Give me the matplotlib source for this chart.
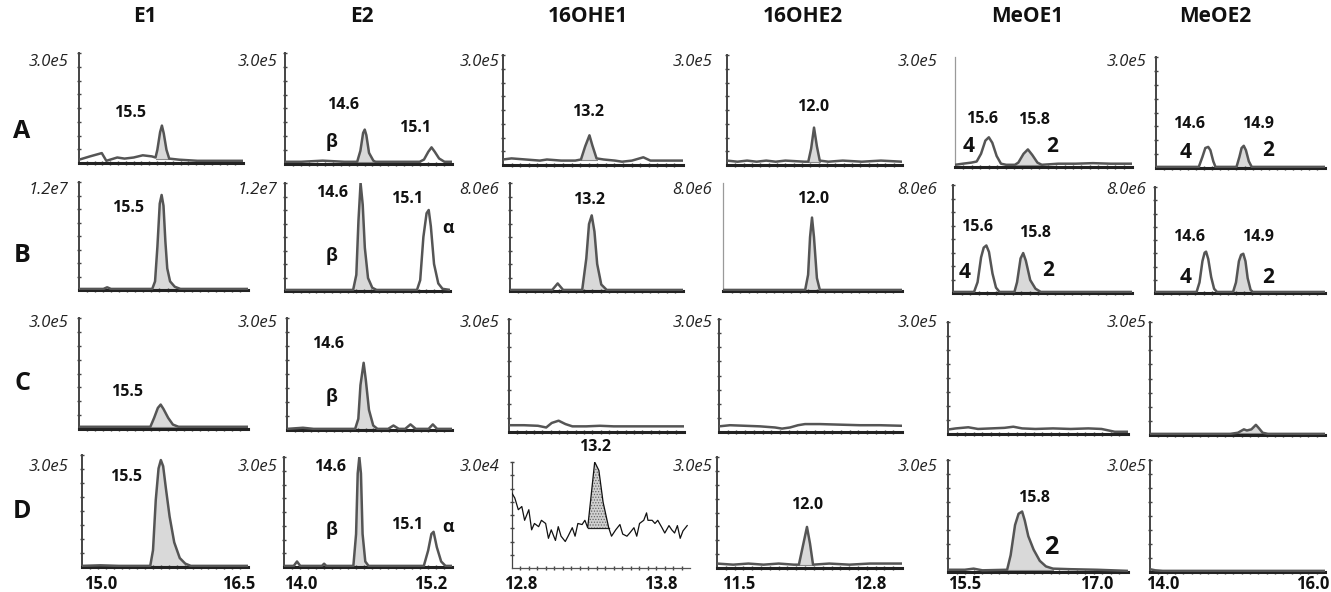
import numpy as np
import matplotlib.pyplot as plt
from matplotlib.transforms import blended_transform_factory

plt.rcParams['font.family'] = ['Open Sans', 'DejaVu Sans']
plt.rcParams['hatch.linewidth'] = 0.6

W, H = 1331, 592

compounds = ["E1", "E2", "16OHE1", "16OHE2", "MeOE1", "MeOE2"]
samples = ["A", "B", "C", "D"]

# full scale of every panel, per sample row
scale_A = ["3.0e5", "3.0e5", "3.0e5", "3.0e5", "3.0e5", "3.0e5"]
scale_B = ["1.2e7", "1.2e7", "8.0e6", "8.0e6", "8.0e6", "8.0e6"]
scale_C = ["3.0e5", "3.0e5", "3.0e5", "3.0e5", "3.0e5", "3.0e5"]
scale_D = ["3.0e5", "3.0e5", "3.0e4", "3.0e5", "3.0e5", "3.0e5"]

# retention time window and labelled ticks per compound
rt_window = [(14.8, 16.6), (13.85, 15.4), (12.74, 14.01), (11.29, 13.12), (15.31, 17.35), (13.83, 16.16)]
rt_ticks = [(15.0, 16.5), (14.0, 15.2), (12.8, 13.8), (11.5, 12.8), (15.5, 17.0), (14.0, 16.0)]

# chromatograms: retention time (min) and signal (fraction of full scale)
E1_A_rt = [14.80, 14.92, 15.05, 15.10, 15.14, 15.22, 15.30, 15.40, 15.50, 15.60, 15.64, 15.66, 15.69, 15.71, 15.73, 15.76, 15.79, 15.90, 16.10, 16.30, 16.60]
E1_A_sig = [0.03, 0.06, 0.09, 0.02, 0.03, 0.05, 0.04, 0.05, 0.07, 0.06, 0.05, 0.12, 0.28, 0.34, 0.27, 0.12, 0.04, 0.03, 0.02, 0.02, 0.02]
E1_B_rt = [14.80, 15.00, 15.06, 15.10, 15.14, 15.40, 15.58, 15.61, 15.635, 15.66, 15.68, 15.70, 15.72, 15.74, 15.77, 15.82, 15.88, 16.20, 16.60]
E1_B_sig = [0.01, 0.01, 0.01, 0.025, 0.01, 0.01, 0.01, 0.08, 0.40, 0.80, 0.88, 0.78, 0.45, 0.20, 0.08, 0.03, 0.01, 0.01, 0.01]
E1_C_rt = [14.80, 15.20, 15.56, 15.60, 15.64, 15.67, 15.70, 15.75, 15.80, 15.86, 16.20, 16.60]
E1_C_sig = [0.02, 0.02, 0.02, 0.10, 0.19, 0.22, 0.18, 0.10, 0.04, 0.02, 0.02, 0.02]
E1_D_rt = [14.80, 15.00, 15.20, 15.54, 15.57, 15.60, 15.63, 15.655, 15.68, 15.71, 15.75, 15.80, 15.86, 15.92, 15.98, 16.30, 16.60]
E1_D_sig = [0.01, 0.015, 0.01, 0.01, 0.15, 0.60, 0.88, 0.955, 0.90, 0.70, 0.45, 0.22, 0.08, 0.03, 0.01, 0.01, 0.01]

E2_A_rt = [13.85, 14.00, 14.20, 14.40, 14.52, 14.55, 14.575, 14.59, 14.605, 14.63, 14.67, 14.69, 14.90, 15.10, 15.14, 15.18, 15.21, 15.24, 15.28, 15.33, 15.40]
E2_A_sig = [0.02, 0.02, 0.03, 0.02, 0.02, 0.12, 0.28, 0.31, 0.26, 0.10, 0.03, 0.02, 0.02, 0.02, 0.04, 0.11, 0.15, 0.11, 0.05, 0.02, 0.02]
E2_B_rt = [13.85, 14.20, 14.49, 14.52, 14.54, 14.56, 14.58, 14.60, 14.63, 14.67, 14.71, 15.09, 15.12, 15.15, 15.18, 15.20, 15.22, 15.25, 15.29, 15.33, 15.40]
E2_B_sig = [0.01, 0.01, 0.01, 0.15, 0.65, 1.00, 0.80, 0.40, 0.12, 0.03, 0.01, 0.01, 0.10, 0.50, 0.72, 0.75, 0.60, 0.25, 0.07, 0.02, 0.01]
E2_C_rt = [13.85, 14.00, 14.10, 14.49, 14.52, 14.54, 14.57, 14.59, 14.62, 14.66, 14.70, 14.80, 14.85, 14.90, 14.96, 15.01, 15.06, 15.18, 15.22, 15.26, 15.40]
E2_C_sig = [0.01, 0.02, 0.01, 0.01, 0.10, 0.40, 0.60, 0.45, 0.18, 0.04, 0.01, 0.01, 0.04, 0.01, 0.01, 0.05, 0.01, 0.01, 0.05, 0.01, 0.01]
E2_D_rt = [13.85, 13.94, 13.97, 14.00, 14.20, 14.22, 14.24, 14.49, 14.515, 14.53, 14.545, 14.56, 14.575, 14.60, 14.63, 15.14, 15.18, 15.21, 15.23, 15.26, 15.30, 15.34, 15.40]
E2_D_sig = [0.01, 0.01, 0.05, 0.01, 0.01, 0.03, 0.01, 0.01, 0.30, 0.85, 1.00, 0.85, 0.30, 0.05, 0.01, 0.01, 0.15, 0.30, 0.32, 0.18, 0.05, 0.01, 0.01]

OHE1_A_rt = [12.74, 12.80, 12.90, 13.00, 13.05, 13.15, 13.25, 13.29, 13.32, 13.35, 13.37, 13.40, 13.45, 13.53, 13.58, 13.65, 13.73, 13.78, 13.90, 14.01]
OHE1_A_sig = [0.05, 0.06, 0.05, 0.04, 0.05, 0.04, 0.04, 0.05, 0.17, 0.27, 0.18, 0.06, 0.05, 0.04, 0.03, 0.04, 0.07, 0.04, 0.04, 0.04]
OHE1_B_rt = [12.74, 13.05, 13.07, 13.09, 13.11, 13.13, 13.27, 13.30, 13.32, 13.34, 13.36, 13.38, 13.41, 13.45, 14.01]
OHE1_B_sig = [0.01, 0.01, 0.04, 0.07, 0.04, 0.01, 0.01, 0.30, 0.62, 0.70, 0.55, 0.25, 0.06, 0.01, 0.01]
OHE1_C_rt = [12.74, 12.85, 12.95, 13.01, 13.05, 13.10, 13.15, 13.20, 13.30, 13.40, 13.50, 13.60, 13.70, 13.80, 13.90, 14.01]
OHE1_C_sig = [0.06, 0.06, 0.055, 0.04, 0.08, 0.10, 0.07, 0.05, 0.05, 0.055, 0.05, 0.05, 0.05, 0.05, 0.05, 0.05]
OHE1_D_rt = [12.74, 12.76, 12.785, 12.81, 12.83, 12.86, 12.88, 12.90, 12.93, 12.95, 12.98, 13.00, 13.02, 13.05,
             13.07, 13.09, 13.12, 13.14, 13.17, 13.19, 13.21, 13.24, 13.26, 13.28, 13.31, 13.33, 13.36, 13.39,
             13.43, 13.45, 13.48, 13.51, 13.53, 13.56, 13.58, 13.61, 13.63, 13.65, 13.68, 13.70, 13.71, 13.74,
             13.76, 13.78, 13.81, 13.83, 13.86, 13.88, 13.90, 13.92, 13.94, 13.96, 13.99]
OHE1_D_sig = [0.705, 0.66, 0.55, 0.58, 0.45, 0.55, 0.36, 0.42, 0.39, 0.45, 0.42, 0.28, 0.36, 0.26,
              0.39, 0.30, 0.25, 0.30, 0.38, 0.30, 0.42, 0.41, 0.45, 0.38, 0.75, 1.00, 0.92, 0.62,
              0.38, 0.30, 0.36, 0.41, 0.32, 0.30, 0.33, 0.38, 0.30, 0.42, 0.45, 0.52, 0.45, 0.45,
              0.42, 0.45, 0.38, 0.33, 0.40, 0.36, 0.33, 0.40, 0.28, 0.35, 0.40]

OHE2_A_rt = [11.29, 11.40, 11.50, 11.60, 11.70, 11.80, 11.90, 12.00, 12.10, 12.14, 12.17, 12.20, 12.23, 12.26, 12.35, 12.50, 12.70, 12.90, 13.12]
OHE2_A_sig = [0.04, 0.03, 0.04, 0.03, 0.04, 0.03, 0.04, 0.035, 0.03, 0.03, 0.15, 0.34, 0.17, 0.04, 0.03, 0.04, 0.03, 0.04, 0.03]
OHE2_B_rt = [11.29, 12.13, 12.16, 12.18, 12.20, 12.22, 12.25, 12.28, 13.12]
OHE2_B_sig = [0.01, 0.01, 0.15, 0.50, 0.68, 0.50, 0.12, 0.01, 0.01]
OHE2_C_rt = [11.29, 11.40, 11.55, 11.70, 11.85, 11.92, 12.00, 12.08, 12.15, 12.30, 12.50, 12.70, 12.90, 13.12]
OHE2_C_sig = [0.05, 0.06, 0.055, 0.05, 0.04, 0.03, 0.04, 0.06, 0.07, 0.07, 0.065, 0.06, 0.06, 0.055]
OHE2_D_rt = [11.29, 11.45, 11.60, 11.75, 11.90, 12.05, 12.10, 12.14, 12.18, 12.21, 12.24, 12.40, 12.60, 12.80, 13.12]
OHE2_D_sig = [0.04, 0.03, 0.04, 0.03, 0.04, 0.03, 0.03, 0.20, 0.37, 0.22, 0.03, 0.04, 0.03, 0.04, 0.04]

MeOE1_A_rt = [15.31, 15.40, 15.50, 15.56, 15.61, 15.66, 15.70, 15.74, 15.79, 15.84, 15.90, 16.00, 16.04, 16.10, 16.15, 16.20, 16.26, 16.31, 16.50, 16.70, 16.90, 17.10, 17.35]
MeOE1_A_sig = [0.02, 0.03, 0.04, 0.05, 0.12, 0.24, 0.27, 0.22, 0.10, 0.03, 0.02, 0.02, 0.04, 0.12, 0.16, 0.11, 0.04, 0.02, 0.03, 0.03, 0.035, 0.03, 0.03]
MeOE1_B_rt = [15.31, 15.55, 15.59, 15.63, 15.66, 15.69, 15.72, 15.76, 15.80, 15.84, 16.01, 16.04, 16.08, 16.11, 16.14, 16.19, 16.25, 16.31, 17.35]
MeOE1_B_sig = [0.01, 0.01, 0.10, 0.33, 0.42, 0.44, 0.38, 0.18, 0.05, 0.01, 0.01, 0.10, 0.32, 0.37, 0.30, 0.12, 0.04, 0.01, 0.01]
MeOE1_C_rt = [15.31, 15.40, 15.54, 15.65, 15.80, 15.95, 16.05, 16.15, 16.30, 16.50, 16.70, 16.90, 17.05, 17.20, 17.35]
MeOE1_C_sig = [0.04, 0.05, 0.06, 0.045, 0.05, 0.055, 0.065, 0.05, 0.045, 0.05, 0.045, 0.05, 0.045, 0.02, 0.02]
MeOE1_D_rt = [15.31, 15.50, 15.60, 15.70, 15.98, 16.02, 16.07, 16.11, 16.15, 16.18, 16.22, 16.28, 16.35, 16.42, 16.50, 16.70, 17.00, 17.35]
MeOE1_D_sig = [0.02, 0.02, 0.03, 0.015, 0.02, 0.15, 0.42, 0.52, 0.54, 0.46, 0.32, 0.20, 0.10, 0.05, 0.03, 0.025, 0.02, 0.01]

MeOE2_A_rt = [13.83, 14.42, 14.47, 14.51, 14.55, 14.58, 14.62, 14.65, 14.94, 14.98, 15.01, 15.04, 15.07, 15.11, 15.15, 16.16]
MeOE2_A_sig = [0.01, 0.01, 0.10, 0.18, 0.19, 0.16, 0.06, 0.01, 0.01, 0.10, 0.18, 0.20, 0.16, 0.06, 0.01, 0.01]
MeOE2_B_rt = [13.83, 14.40, 14.44, 14.48, 14.51, 14.53, 14.56, 14.60, 14.64, 14.68, 14.90, 14.94, 14.98, 15.01, 15.04, 15.07, 15.10, 15.14, 15.17, 16.16]
MeOE2_B_sig = [0.01, 0.01, 0.10, 0.30, 0.38, 0.39, 0.32, 0.15, 0.04, 0.01, 0.01, 0.10, 0.30, 0.36, 0.37, 0.30, 0.14, 0.03, 0.01, 0.01]
MeOE2_C_rt = [13.83, 14.90, 15.00, 15.08, 15.12, 15.18, 15.24, 15.28, 15.33, 15.40, 16.16]
MeOE2_C_sig = [0.01, 0.01, 0.02, 0.05, 0.04, 0.05, 0.09, 0.06, 0.02, 0.01, 0.01]
MeOE2_D_rt = [13.83, 13.90, 14.00, 14.50, 15.00, 15.50, 16.16]
MeOE2_D_sig = [0.025, 0.015, 0.01, 0.01, 0.01, 0.01, 0.01]

# integrated peaks (retention time ranges)
E1_peaks = [[(15.64, 15.79)], [(15.58, 15.88)], [(15.56, 15.86)], [(15.54, 15.98)]]
E2_peaks = [[(14.52, 14.69)], [(14.49, 14.71)], [(14.49, 14.70)], [(14.49, 14.63)]]
OHE1_peaks = [[(13.29, 13.40)], [(13.27, 13.45)], [], [(13.28, 13.43)]]
OHE2_peaks = [[(12.14, 12.26)], [(12.13, 12.28)], [], [(12.10, 12.24)]]
MeOE1_peaks = [[(16.00, 16.31)], [(16.01, 16.31)], [], [(15.98, 16.50)]]
MeOE2_peaks = [[(14.94, 15.15)], [(14.90, 15.17)], [(15.00, 15.33)], []]

traces = {
    "E1": [(E1_A_rt, E1_A_sig), (E1_B_rt, E1_B_sig), (E1_C_rt, E1_C_sig), (E1_D_rt, E1_D_sig)],
    "E2": [(E2_A_rt, E2_A_sig), (E2_B_rt, E2_B_sig), (E2_C_rt, E2_C_sig), (E2_D_rt, E2_D_sig)],
    "16OHE1": [(OHE1_A_rt, OHE1_A_sig), (OHE1_B_rt, OHE1_B_sig), (OHE1_C_rt, OHE1_C_sig), (OHE1_D_rt, OHE1_D_sig)],
    "16OHE2": [(OHE2_A_rt, OHE2_A_sig), (OHE2_B_rt, OHE2_B_sig), (OHE2_C_rt, OHE2_C_sig), (OHE2_D_rt, OHE2_D_sig)],
    "MeOE1": [(MeOE1_A_rt, MeOE1_A_sig), (MeOE1_B_rt, MeOE1_B_sig), (MeOE1_C_rt, MeOE1_C_sig), (MeOE1_D_rt, MeOE1_D_sig)],
    "MeOE2": [(MeOE2_A_rt, MeOE2_A_sig), (MeOE2_B_rt, MeOE2_B_sig), (MeOE2_C_rt, MeOE2_C_sig), (MeOE2_D_rt, MeOE2_D_sig)],
}
peaks = {"E1": E1_peaks, "E2": E2_peaks, "16OHE1": OHE1_peaks, "16OHE2": OHE2_peaks,
         "MeOE1": MeOE1_peaks, "MeOE2": MeOE2_peaks}
scales = [scale_A, scale_B, scale_C, scale_D]

# ---- layout (pixels of the 1331x592 picture) ----
boxes = {  # left, right, top, bottom of each panel
    "E1": [(79, 243, 53, 163), (79, 248, 182, 290), (79, 248, 318, 429), (82, 248, 455, 567)],
    "E2": [(285, 452, 53, 164), (285, 450, 183, 291), (287, 452, 318, 430), (284, 452, 457, 567)],
    "16OHE1": [(503, 683, 55, 165), (510, 683, 183, 291), (509, 684, 319, 432), (512, 690, 462, 568)],
    "16OHE2": [(727, 902, 55, 165), (723, 902, 183, 291), (719, 902, 319, 432), (717, 902, 457, 568)],
    "MeOE1": [(955, 1132, 57, 167), (953, 1132, 185, 293), (948, 1128, 322, 434), (948, 1128, 460, 572)],
    "MeOE2": [(1156, 1325, 57, 168), (1155, 1325, 187, 293), (1150, 1325, 322, 435), (1150, 1325, 460, 572)],
}
faint_axis = [("MeOE1", "A"), ("16OHE2", "B")]  # panels drawn with a faint y axis
header_x = [145, 362, 588, 803, 1027, 1215]
row_label_y = [131, 255, 384, 512]
scale_right = [68, 277, 499, 712, 937, 1146]
scale_y = [62, 190, 323, 467]
tick_label_y = 584

# peak annotations: compound, row, text, x, y, fontsize
labels = [
    ("E1", 0, "15.5", 130, 113, 11.5), ("E1", 1, "15.5", 128, 208, 11.5),
    ("E1", 2, "15.5", 127, 392, 11.5), ("E1", 3, "15.5", 126, 477, 11.5),
    ("E2", 0, "14.6", 343, 105, 11.5), ("E2", 0, "β", 332, 142, 13), ("E2", 0, "15.1", 415, 128, 11.5),
    ("E2", 1, "14.6", 332, 193, 11.5), ("E2", 1, "β", 332, 256, 13), ("E2", 1, "15.1", 407, 199, 11.5),
    ("E2", 1, "α", 448, 228, 13),
    ("E2", 2, "14.6", 328, 344, 11.5), ("E2", 2, "β", 332, 397, 13),
    ("E2", 3, "14.6", 330, 467, 11.5), ("E2", 3, "β", 332, 530, 13), ("E2", 3, "15.1", 407, 525, 11.5),
    ("E2", 3, "α", 448, 527, 13),
    ("16OHE1", 0, "13.2", 588, 112, 11.5), ("16OHE1", 1, "13.2", 589, 200, 11.5),
    ("16OHE1", 3, "13.2", 595, 447, 11.5),
    ("16OHE2", 0, "12.0", 813, 107, 11.5), ("16OHE2", 1, "12.0", 813, 199, 11.5),
    ("16OHE2", 3, "12.0", 807, 505, 11.5),
    ("MeOE1", 0, "15.6", 982, 119, 11.5), ("MeOE1", 0, "4", 969, 146, 15),
    ("MeOE1", 0, "15.8", 1034, 120, 11.5), ("MeOE1", 0, "2", 1052, 147, 15),
    ("MeOE1", 1, "15.6", 977, 227, 11.5), ("MeOE1", 1, "4", 965, 272, 15),
    ("MeOE1", 1, "15.8", 1035, 233, 11.5), ("MeOE1", 1, "2", 1048, 271, 15),
    ("MeOE1", 3, "15.8", 1034, 498, 11.5), ("MeOE1", 3, "2", 1051, 547, 18),
    ("MeOE2", 0, "14.6", 1189, 124, 11.5), ("MeOE2", 0, "4", 1186, 152, 15),
    ("MeOE2", 0, "14.9", 1258, 124, 11.5), ("MeOE2", 0, "2", 1268, 151, 15),
    ("MeOE2", 1, "14.6", 1189, 237, 11.5), ("MeOE2", 1, "4", 1186, 278, 15),
    ("MeOE2", 1, "14.9", 1258, 237, 11.5), ("MeOE2", 1, "2", 1268, 278, 15),
]

fig = plt.figure(figsize=(W / 100, H / 100), dpi=100)
fig.patch.set_facecolor('white')

for ci, comp in enumerate(compounds):
    for ri, row in enumerate(samples):
        L, R, T, B = boxes[comp][ri]
        ax = fig.add_axes([L / W, 1 - B / H, (R - L) / W, (B - T) / H])
        ax.set_facecolor('none')
        rt, sig = traces[comp][ri]
        thin = (comp == "16OHE1" and row == "D")
        faint = (comp, row) in faint_axis

        for x0, x1 in peaks[comp][ri]:
            xs = [x for x in rt if x0 <= x <= x1]
            ys = [s for x, s in zip(rt, sig) if x0 <= x <= x1]
            base = min(ys[0], ys[-1])
            if thin:
                ax.fill_between(xs, ys, base, facecolor='#d0d0d0', edgecolor='#666666',
                                hatch='......', lw=0, zorder=1)
                ax.plot([xs[0], xs[-1]], [base, base], color='#222222', lw=0.9, zorder=2)
            else:
                ax.fill_between(xs, ys, base, color='#d9d9d9', lw=0, zorder=1)
                ax.plot([xs[0], xs[-1]], [base, base], color='#888888', lw=0.8, zorder=2)

        if thin:
            ax.plot(rt, sig, color='#111111', lw=0.9, zorder=3)
        else:
            ax.plot(rt, sig, color='#555555', lw=1.8, zorder=3, solid_joinstyle='round')

        ax.set_xlim(rt_window[ci])
        ax.set_ylim(0, 1)
        for side in ['top', 'right']:
            ax.spines[side].set_visible(False)
        ax.spines['left'].set_color('#9a9a9a' if faint else '#444444')
        ax.spines['left'].set_linewidth(0.9 if (thin or faint) else 1.4)
        ax.spines['bottom'].set_color('#555555' if thin else '#222222')
        ax.spines['bottom'].set_linewidth(0.9 if thin else 2.2)

        ax.set_yticks([])
        ax.set_xticks([])
        if not faint:
            ax.set_yticks(np.linspace(0, 1, 9)[1:], minor=True)
        ax.set_xticks(np.linspace(*rt_window[ci], 22)[1:-1], minor=True)
        ax.tick_params(which='minor', length=2.5, width=1, color='#444444', direction='inout')

        if row == "D":
            trans = blended_transform_factory(ax.transData, fig.transFigure)
            for t in rt_ticks[ci]:
                ax.text(t, 1 - tick_label_y / H, "%.1f" % t, transform=trans, ha='center', va='center',
                        fontsize=12, fontweight='bold', color='#111111', clip_on=False)

        fig.text(scale_right[ci] / W, 1 - scale_y[ri] / H, scales[ri][ci], ha='right', va='center',
                 style='italic', fontsize=12, color='#222222')

for ci, comp in enumerate(compounds):
    fig.text(header_x[ci] / W, 1 - 17 / H, comp, ha='center', va='center',
             fontsize=15, fontweight='bold', color='#111111')

for ri, row in enumerate(samples):
    fig.text(22 / W, 1 - row_label_y[ri] / H, row, ha='center', va='center',
             fontsize=18, fontweight='bold', color='#111111')

for comp, ri, txt, x, y, fs in labels:
    fig.text(x / W, 1 - y / H, txt, ha='center', va='center', fontsize=fs,
             fontweight='bold', color='#111111')

fig.savefig('out.png', dpi=100)
